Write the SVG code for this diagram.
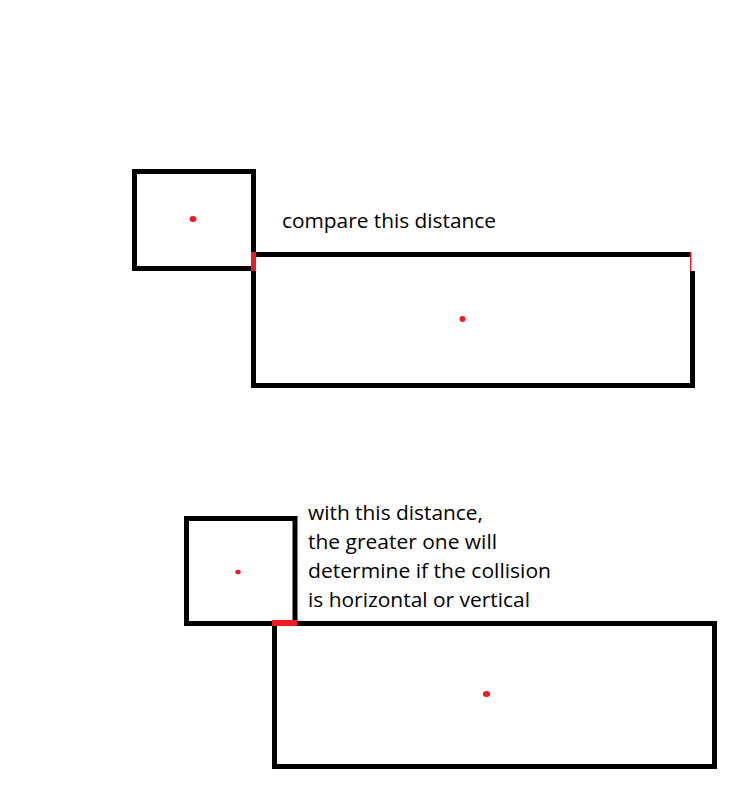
<svg xmlns="http://www.w3.org/2000/svg" width="746" height="791" viewBox="0 0 746 791">
<style>
.box{fill:none;stroke:#000;stroke-width:5}
.blk{fill:#000}
.red{fill:#ed1c24}
.lbl{font-family:"Open Sans","Liberation Sans",sans-serif;font-size:20px;fill:#000}
</style>
<rect width="746" height="791" fill="#fff"/>
<g id="top-small">
<rect class="box" x="134.5" y="171.5" width="119" height="97"/>
<ellipse class="red" cx="193" cy="219" rx="3.4" ry="3"/>
</g>
<g id="top-big">
<rect class="blk" x="251" y="252" width="439" height="5"/>
<rect class="blk" x="251" y="252" width="5" height="136"/>
<rect class="blk" x="251" y="383" width="444" height="5"/>
<rect class="blk" x="690" y="271" width="5" height="117"/>
<rect class="red" x="690" y="252" width="1.5" height="19"/>
<rect class="red" x="251" y="252" width="5" height="19"/>
<ellipse class="red" cx="462.5" cy="319" rx="3" ry="3"/>
</g>
<g id="top-label">
<text class="lbl" x="282" y="227.5" textLength="214" lengthAdjust="spacingAndGlyphs">compare this distance</text>
</g>
<g id="bottom-small">
<rect class="box" x="186.5" y="518.5" width="108.5" height="105"/>
<ellipse class="red" cx="238" cy="572" rx="2.7" ry="2.3"/>
</g>
<g id="bottom-big">
<rect class="box" x="274.5" y="623.5" width="440" height="143"/>
<rect class="red" x="272" y="620" width="25.3" height="6"/>
<ellipse class="red" cx="486.5" cy="694" rx="3.6" ry="3"/>
</g>
<g id="bottom-label">
<text class="lbl" x="308" y="520" textLength="175" lengthAdjust="spacingAndGlyphs">with this distance,</text>
<text class="lbl" x="308" y="549" textLength="189" lengthAdjust="spacingAndGlyphs">the greater one will</text>
<text class="lbl" x="308" y="578" textLength="243" lengthAdjust="spacingAndGlyphs">determine if the collision</text>
<text class="lbl" x="308" y="607" textLength="222" lengthAdjust="spacingAndGlyphs">is horizontal or vertical</text>
</g>
<g id="connectors"></g>
</svg>
